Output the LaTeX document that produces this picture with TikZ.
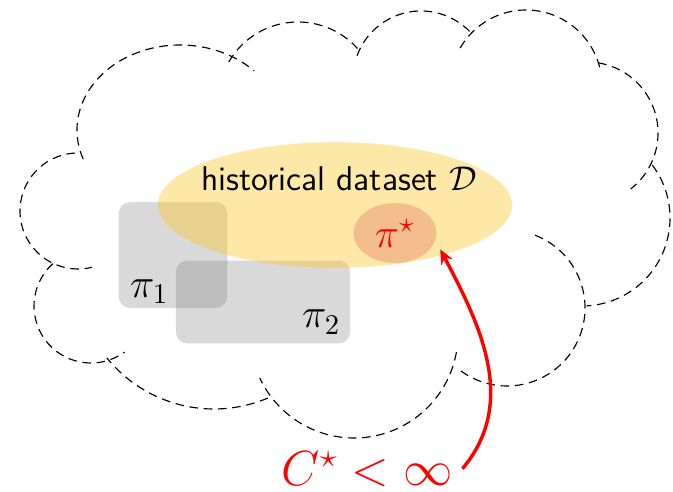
\documentclass[tikz,border=0pt]{standalone}
\usepackage{amsmath}
\usepackage{amssymb}
\usepackage{tikz}
\usetikzlibrary{
    arrows.meta,
    shapes.geometric
}

\definecolor{datagold}{RGB}{250,198,38}
\definecolor{optfill}{RGB}{243,190,140}

\begin{document}
\begin{tikzpicture}[
    x=0.35pt, y=0.35pt,
    puff/.style={
        densely dashed,
        line width=0.4pt
    },
    policy/.style={
        rounded corners=4pt,
        fill=gray,
        fill opacity=0.3,
        inner sep=0pt
    },
    datablob/.style={
        ellipse,
        fill=datagold,
        fill opacity=0.4,
        inner sep=0pt,
        minimum width=124pt,
        minimum height=44pt
    },
    optblob/.style={
        ellipse,
        fill=optfill,
        text=red,
        font=\Large,
        inner sep=0pt,
        outer sep=3pt,
        minimum width=29pt,
        minimum height=21pt
    },
    arrow/.style={-{Stealth[length=5pt,width=4.5pt]},very thick,red}
]

\useasboundingbox (0,0) rectangle (673,491);

% cloud: one arc per puff (centre, radii, start, end)
\foreach \cx/\cy/\rx/\ry/\sa/\ea in {
    78/280/58/58/93/284,
    180/361/103/85/200/44,
    298/389/80/80/150/42,
    421/412/68/68/160/44,
    526/405/76/76/150/10,
    587/358/71/71/81/-52,
    582/273/88/88/37/-87,
    507/183/78/78/69/-130,
    354/157/104/104/-10/-155,
    214/220/138/138/-67/-141,
    91/185/57/57/132/306}
    \draw[puff] (\cx,\cy) ++(\sa:{\rx} and {\ry})
        arc[start angle=\sa, end angle=\ea, x radius=\rx, y radius=\ry];

% policies
\node[policy, minimum width=38pt, minimum height=37pt] (pol1) at (173,236) {};
\node[policy, minimum width=61pt, minimum height=29pt] (pol2) at (263,189) {};
\node[font=\Large, anchor=base west] (pilabel1) at (120,194) {$\pi_1$};
\node[font=\Large, anchor=base west] (pilabel2) at (292,163) {$\pi_2$};

% data coverage
\node[datablob] (data) at (335,286) {};
\node[font=\large\sffamily, anchor=base] (datalabel) at (339,300)
{historical dataset $\mathcal{D}$};
\node[optblob] (pistar) at (395,258) {$\pi^\star$};

\node[font=\LARGE, text=red, anchor=base] (cstar) at (367,6)
{$C^\star < \infty$};

\draw[arrow] (cstar.east) to[out=50, in=-62] (pistar.-20);

\end{tikzpicture}
\end{document}
